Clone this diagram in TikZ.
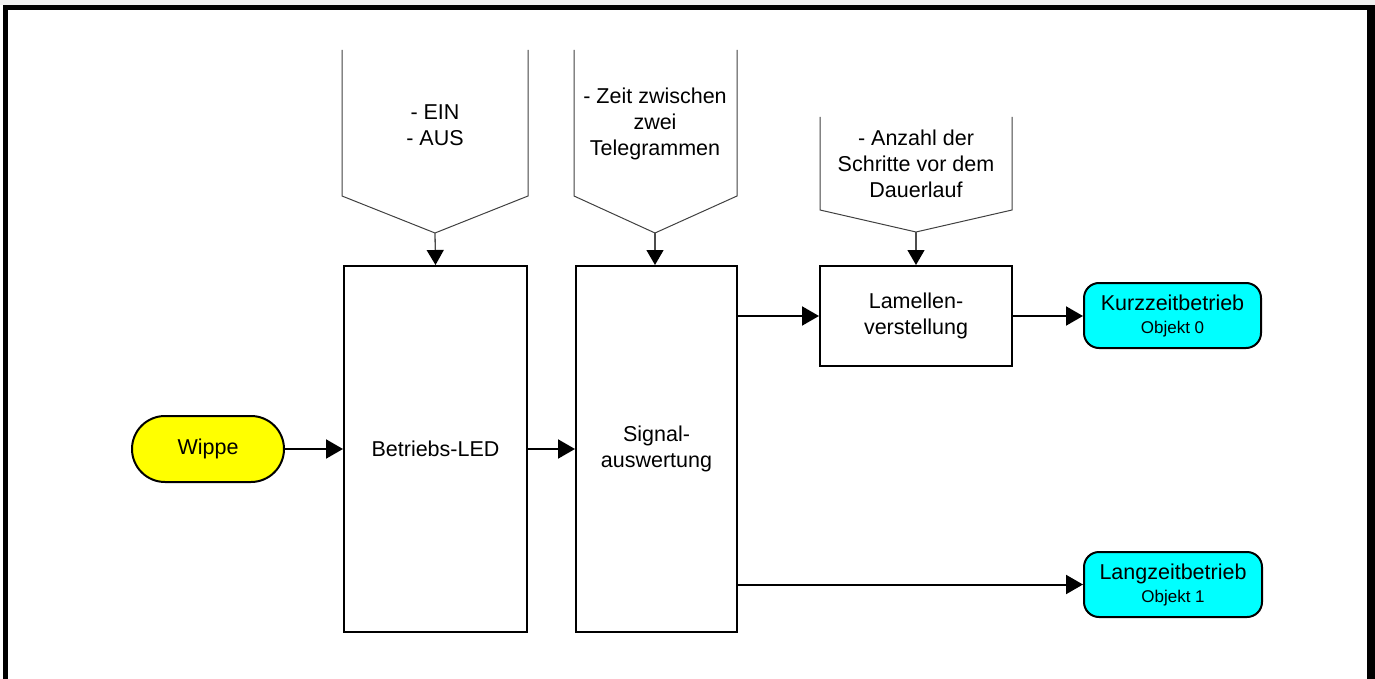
\documentclass[tikz,border=0pt]{standalone}
\usepackage{fontspec}
\setmainfont{Liberation Sans}
\usetikzlibrary{arrows.meta}
\definecolor{bandgray}{RGB}{240,240,240}
\definecolor{aqua}{RGB}{0,255,255}
\definecolor{yel}{RGB}{255,255,0}
\tikzset{
  mainfont/.style={font=\fontsize{21.5}{26}\selectfont},
  block/.style={draw=black, line width=2pt, fill=white, align=center, mainfont, inner sep=0pt},
  term/.style={draw=black, line width=2pt, align=center, mainfont, inner sep=0pt},
  param/.style={draw=black!75, line width=1pt},
  flow/.style={draw=black, line width=2pt, -{Triangle[length=17pt,width=19pt]}},
  feed/.style={draw=black!70, line width=1.3pt, -{Triangle[length=15pt,width=17pt,color=black]}},
  ptext/.style={align=center, mainfont, inner sep=0pt}
}
\begin{document}
\begin{tikzpicture}[x=1pt,y=-1pt]
\useasboundingbox (0,0) rectangle (1375,679);
% frame
\fill[bandgray] (0,0) rectangle (1375,5);
\fill[black] (3,5) rectangle (1375,10);
\fill[black] (3,5) rectangle (8,679);
\fill[black] (1367,5) rectangle (1375,679);

% parameter pentagons (open top)
\draw[param] (342,50) -- (342,196) -- (435,233) -- (528,196) -- (528,50);
\coordinate (p1) at (435,233);
\node[ptext] (t1) at (435,125) {- EIN\\- AUS};
\draw[param] (574,50) -- (574,196) -- (655,233) -- (737,196) -- (737,50);
\coordinate (p2) at (655,233);
\node[ptext] (t2) at (655,124) {- Zeit zwischen\\zwei\\Telegrammen};
\draw[param] (820,117) -- (820,210) -- (916,232) -- (1012,210) -- (1012,117);
\coordinate (p3) at (916,232);
\node[ptext] (t3) at (916,164) {- Anzahl der\\Schritte vor dem\\Dauerlauf};

% main blocks
\node[term, fill=yel, minimum width=152pt, minimum height=66pt, rounded corners=33pt] (wippe) at (208,449) {Wippe};
\node[block, minimum width=183pt, minimum height=366pt] (led) at (435.5,449) {Betriebs-LED};
\node[block, minimum width=161pt, minimum height=366pt] (sig) at (656.5,449) {Signal-\\auswertung};
\node[block, minimum width=192pt, minimum height=100pt] (lam) at (916,316) {Lamellen-\\verstellung};
\node[term, fill=aqua, minimum width=177pt, minimum height=65pt, rounded corners=15pt] (kurz) at (1172.5,315.5) {Kurzzeitbetrieb\\[-3pt]{\fontsize{17}{20}\selectfont Objekt 0}};
\node[term, fill=aqua, minimum width=178pt, minimum height=65pt, rounded corners=15pt] (lang) at (1173,584.5) {Langzeitbetrieb\\[-3pt]{\fontsize{17}{20}\selectfont Objekt 1}};

% connectors
\draw[feed] (p1) -- (led.north);
\draw[feed] (p2) -- (sig.north -| p2);
\draw[feed] (p3) -- (lam.north);
\draw[flow] (wippe.east) -- (led.west |- wippe.east);
\draw[flow] (led.east |- wippe.east) -- (sig.west |- wippe.east);
\draw[flow] (sig.east |- lam.west) -- (lam.west);
\draw[flow] (lam.east) -- (kurz.west |- lam.east);
\draw[flow] (sig.east |- lang.west) -- (lang.west);
\end{tikzpicture}
\end{document}
